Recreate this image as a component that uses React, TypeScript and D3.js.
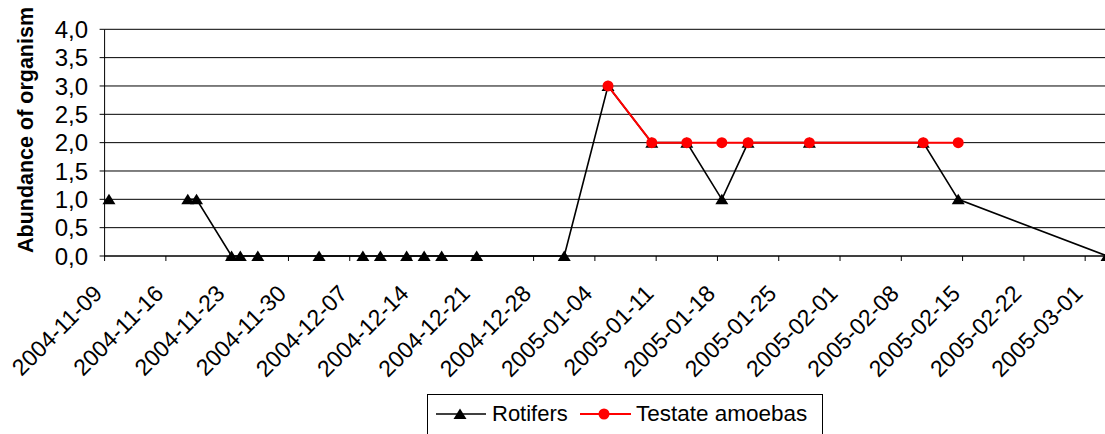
import React from 'react';
import * as d3 from 'd3';

// Sampling dates and counts. A null value marks an empty row, which breaks the line.
const rotiferDates = [
  '2004-11-09', '2004-11-15', '2004-11-18', '2004-11-19', '2004-11-23', '2004-11-24',
  '2004-11-26', '2004-12-03', '2004-12-08', '2004-12-10', '2004-12-13', '2004-12-15',
  '2004-12-17', '2004-12-21', '2004-12-31', '2005-01-05', '2005-01-10', '2005-01-14',
  '2005-01-18', '2005-01-21', '2005-01-28', '2005-02-10', '2005-02-14', '2005-03-03',
];
const rotiferValues: (number | null)[] = [
  1, null, 1, 1, 0, 0,
  0, 0, 0, 0, 0, 0,
  0, 0, 0, 3, 2, 2,
  1, 2, 2, 2, 1, 0,
];

const amoebaDates = [
  '2005-01-05', '2005-01-10', '2005-01-14', '2005-01-18',
  '2005-01-21', '2005-01-28', '2005-02-10', '2005-02-14',
];
const amoebaValues = [3, 2, 2, 2, 2, 2, 2, 2];

const yTicks = [0, 0.5, 1, 1.5, 2, 2.5, 3, 3.5, 4];
const yTitle = 'Abundance of organism';
const seriesNames = ['Rotifers', 'Testate amoebas'];

const W = 1105;
const H = 434;
const FONT = '"Liberation Sans", Arial, sans-serif';

const parse = d3.utcParse('%Y-%m-%d');
const fmt = d3.utcFormat('%Y-%m-%d');

type Pt = { date: Date; value: number | null };

const rotifers: Pt[] = rotiferDates.map((d, i) => ({ date: parse(d)!, value: rotiferValues[i] }));
const amoebas: Pt[] = amoebaDates.map((d, i) => ({ date: parse(d)!, value: amoebaValues[i] }));

const dayStart = parse('2004-11-09')!;
const dayEnd = parse('2005-03-04')!;

// Date axis: ticks at midnight, points centred in their day
const x = d3.scaleUtc().domain([dayStart, dayEnd]).range([104.6, 104.6 + 115 * 8.755]);
const y = d3.scaleLinear().domain([0, 4]).range([256, 29.3]);
const px = (d: Date) => x(d3.utcHour.offset(d, 12));

const xTicks = d3.utcTuesday.range(dayStart, d3.utcDay.offset(parse('2005-03-01')!, 1));

const line = d3
  .line<Pt>()
  .defined((d) => d.value !== null)
  .x((d) => px(d.date))
  .y((d) => y(d.value as number));

const triPath = (cx: number, cy: number) => {
  const p = d3.path();
  p.moveTo(cx, cy - 5.5);
  p.lineTo(cx + 6.5, cy + 5);
  p.lineTo(cx - 6.5, cy + 5);
  p.closePath();
  return p.toString();
};

const x0 = x(dayStart);

export default function App() {
  return (
    <svg width={W} height={H} style={{ position: 'absolute', left: 0, top: 0, display: 'block' }}>
      <rect x={0} y={0} width={W} height={H} fill="#fff" />

      {/* horizontal gridlines */}
      {yTicks.map((t) => (
        <line key={'g' + t} x1={x0} x2={W} y1={y(t)} y2={y(t)} stroke="#000" strokeWidth={1} />
      ))}

      {/* y axis */}
      <line x1={x0} x2={x0} y1={y(4)} y2={y(0)} stroke="#000" strokeWidth={1} />
      {yTicks.map((t) => (
        <g key={'yt' + t}>
          <line x1={x0 - 5} x2={x0} y1={y(t)} y2={y(t)} stroke="#000" />
          <text
            x={88}
            y={y(t)}
            dy="0.36em"
            textAnchor="end"
            fontFamily={FONT}
            fontSize={24}
            fill="#000"
          >
            {d3.format('.1f')(t).replace('.', ',')}
          </text>
        </g>
      ))}

      {/* x axis */}
      <line x1={x0} x2={W} y1={y(0)} y2={y(0)} stroke="#000" strokeWidth={1} />
      {xTicks.map((t) => (
        <g key={'xt' + +t}>
          <line x1={x(t)} x2={x(t)} y1={y(0)} y2={y(0) + 5} stroke="#000" />
          <text
            transform={`translate(${x(t) - 1},${295}) rotate(-45)`}
            textAnchor="end"
            fontFamily={FONT}
            fontSize={23}
            fill="#000"
          >
            {fmt(t)}
          </text>
        </g>
      ))}

      {/* y title */}
      <text
        transform={`translate(33,130) rotate(-90)`}
        textAnchor="middle"
        fontFamily={FONT}
        fontWeight="bold"
        fontSize={21.5}
        fill="#000"
      >
        {yTitle}
      </text>

      {/* Rotifers */}
      <path d={line(rotifers) || ''} fill="none" stroke="#000" strokeWidth={1.6} />
      {rotifers
        .filter((d) => d.value !== null)
        .map((d, i) => (
          <path key={'r' + i} d={triPath(px(d.date), y(d.value as number))} fill="#000" />
        ))}

      {/* Testate amoebas */}
      <path d={line(amoebas) || ''} fill="none" stroke="#ff0000" strokeWidth={2} />
      {amoebas.map((d, i) => (
        <circle key={'a' + i} cx={px(d.date)} cy={y(d.value as number)} r={5.5} fill="#ff0000" />
      ))}

      {/* legend */}
      <rect x={427.5} y={394.5} width={395} height={50} fill="#fff" stroke="#000" strokeWidth={1} />
      <line x1={436} x2={486} y1={414} y2={414} stroke="#000" strokeWidth={1.6} />
      <path d={triPath(460, 414)} fill="#000" />
      <text x={492} y={421} fontFamily={FONT} fontSize={22} fill="#000">
        {seriesNames[0]}
      </text>
      <line x1={580} x2={631} y1={414} y2={414} stroke="#ff0000" strokeWidth={2} />
      <circle cx={604} cy={414} r={5.5} fill="#ff0000" />
      <text x={636} y={421} fontFamily={FONT} fontSize={22.5} fill="#000">
        {seriesNames[1]}
      </text>
    </svg>
  );
}
